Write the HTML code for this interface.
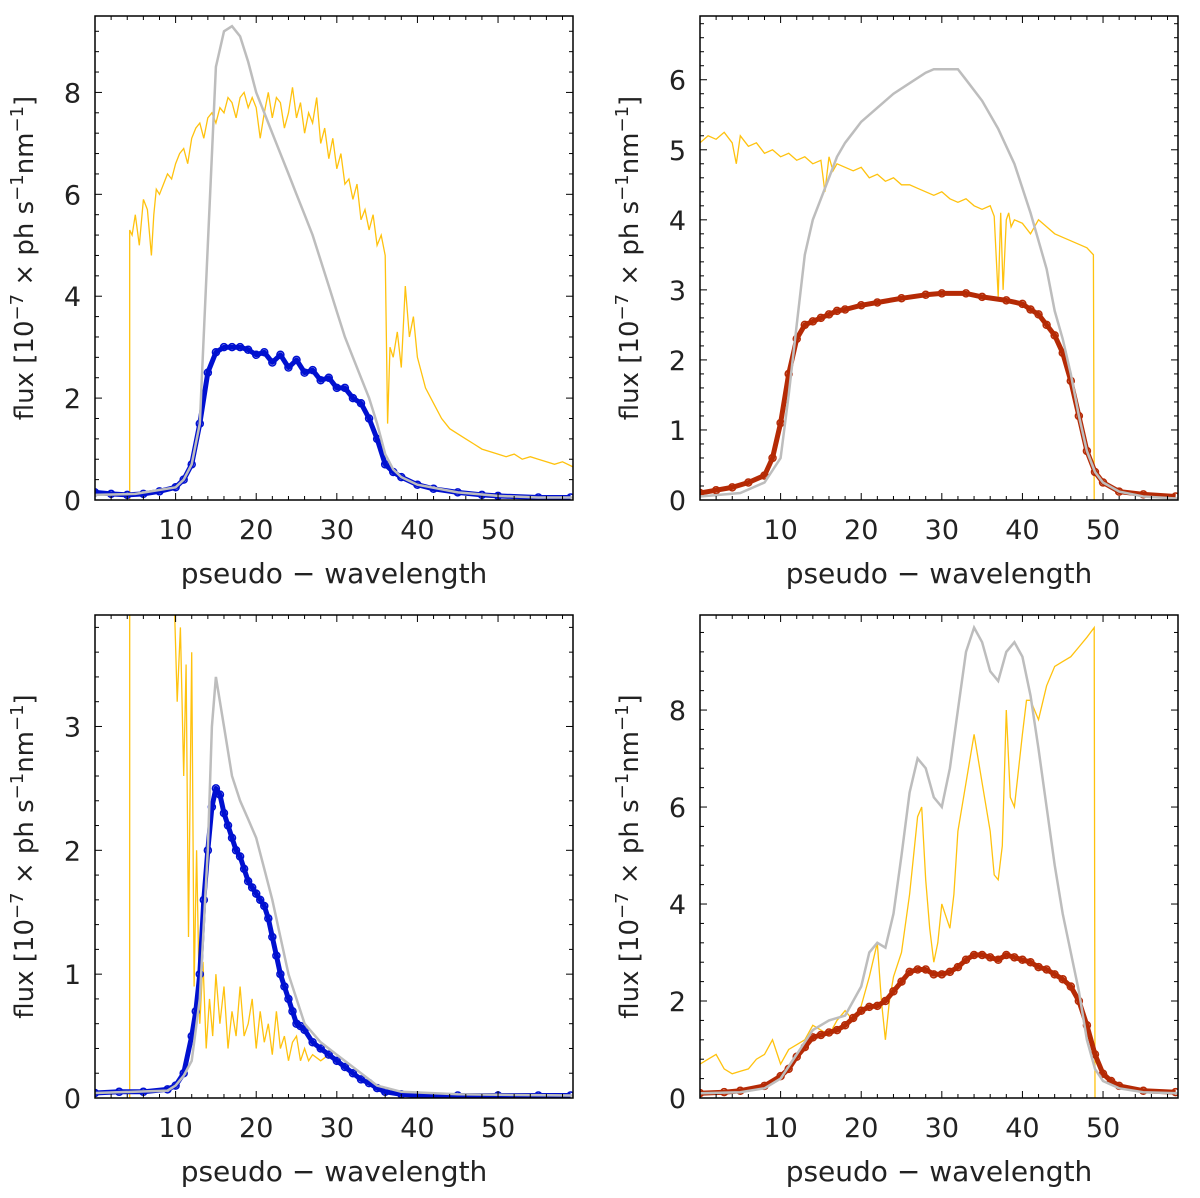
<!DOCTYPE html>
<html><head><meta charset="utf-8">
<style>
html,body{margin:0;padding:0;background:#fff;}
svg text{font-family:"DejaVu Sans","Liberation Sans",sans-serif;fill:#222;}
</style></head>
<body>
<svg id="fig" width="1200" height="1193" viewBox="0 0 1200 1193" xmlns="http://www.w3.org/2000/svg"></svg>
<script>
// ---- Panel A (top-left)
const aGrayX=[0,5,10,11,12,13,14,15,16,17,18,19,20,21,22,23,24,25,26,27,28,29,30,31,32,33,34,35,36,37,38,40,45,50,55,59.3];
const aGrayY=[0.1,0.12,0.25,0.4,0.7,1.5,5,8.5,9.2,9.3,9.1,8.6,8.0,7.6,7.2,6.8,6.4,6.0,5.6,5.2,4.7,4.2,3.7,3.2,2.8,2.4,2.0,1.5,0.9,0.6,0.45,0.3,0.15,0.08,0.05,0.05];
const aDotX=[0,2,4,6,8,10,11,12,13,14,15,16,17,18,19,20,21,22,23,24,25,26,27,28,29,30,31,32,33,34,35,36,37,38,40,42,45,48,50,55,59];
const aDotY=[0.15,0.12,0.1,0.12,0.17,0.25,0.4,0.7,1.5,2.5,2.9,3.0,3.0,3.0,2.95,2.85,2.9,2.7,2.85,2.6,2.75,2.5,2.55,2.35,2.4,2.2,2.2,2.0,1.9,1.6,1.2,0.7,0.55,0.45,0.3,0.22,0.15,0.1,0.08,0.05,0.05];
const aYelX=[4.3,4.3,4.6,5,5.5,6,6.5,7,7.3,7.6,8,8.5,9,9.5,10,10.5,11,11.5,12,12.5,13,13.5,14,14.5,15,15.5,16,16.5,17,17.5,18,18.5,19,19.5,20,20.5,21,21.5,22,22.5,23,23.5,24,24.5,25,25.5,26,26.5,27,27.5,28,28.5,29,29.5,30,30.5,31,31.5,32,32.5,33,33.5,34,34.5,35,35.5,36,36.3,36.6,37,37.5,38,38.5,39,39.5,40,41,42,43,44,45,46,47,48,49,50,51,52,53,54,55,56,57,58,59.3];
const aYelY=[0,5.3,5.2,5.6,5.0,5.9,5.7,4.8,5.6,6.1,6.0,6.2,6.4,6.3,6.6,6.8,6.9,6.6,7.1,7.3,7.4,7.1,7.5,7.6,7.4,7.7,7.6,7.9,7.8,7.5,7.9,8.0,7.7,7.9,7.7,7.1,7.6,8.0,7.5,7.9,7.8,7.3,7.6,8.1,7.5,7.8,7.2,7.6,7.4,7.9,7.0,7.3,6.7,7.1,6.5,6.8,6.2,6.3,5.9,6.2,5.5,5.7,5.3,5.6,5.0,5.2,4.8,1.5,3.0,2.8,3.3,2.6,4.2,3.2,3.6,2.8,2.2,1.9,1.6,1.4,1.3,1.2,1.1,1.0,0.95,0.9,0.85,0.9,0.8,0.85,0.8,0.75,0.7,0.75,0.65];
// ---- Panel B (top-right)
const bGrayX=[0,5,8,10,11,12,13,14,15,16,17,18,19,20,22,24,26,28,29,32,33,35,37,39,41,43,44,45,46,47,48,49,50,52,55,59.3];
const bGrayY=[0.05,0.1,0.25,0.6,1.5,2.5,3.5,4.0,4.3,4.6,4.9,5.1,5.25,5.4,5.6,5.8,5.95,6.1,6.15,6.15,6.0,5.7,5.3,4.8,4.1,3.3,2.7,2.3,1.8,1.2,0.7,0.4,0.25,0.12,0.05,0.02];
const bDotX=[0,2,4,6,8,9,10,11,12,13,14,15,16,17,18,20,22,25,28,30,33,35,38,40,41,42,43,44,45,46,47,48,49,50,52,55,59];
const bDotY=[0.1,0.14,0.18,0.25,0.35,0.6,1.1,1.8,2.3,2.5,2.55,2.6,2.65,2.7,2.72,2.78,2.82,2.88,2.93,2.95,2.95,2.9,2.85,2.8,2.72,2.65,2.5,2.35,2.1,1.7,1.2,0.7,0.4,0.25,0.12,0.08,0.05];
const bYelX=[0,1,2,3,4,4.5,5,6,7,8,9,10,11,12,13,14,15,15.5,16,16.5,17,18,19,20,21,22,23,24,25,26,27,28,29,30,31,32,33,34,35,36,36.5,37,37.3,37.6,38,38.3,38.6,39,40,41,42,43,44,45,46,47,48,48.8,48.9];
const bYelY=[5.1,5.2,5.15,5.25,5.1,4.8,5.2,5.05,5.1,4.95,5.0,4.9,4.95,4.85,4.9,4.8,4.85,4.4,4.9,4.7,4.8,4.75,4.7,4.75,4.6,4.65,4.55,4.6,4.5,4.5,4.45,4.4,4.35,4.4,4.3,4.25,4.3,4.2,4.15,4.2,4.05,2.9,4.1,3.0,4.0,4.1,3.9,4.0,3.95,3.8,4.0,3.9,3.8,3.75,3.7,3.65,3.6,3.5,0];
// ---- Panel C (bottom-left)
const cGrayX=[0,9,10,11,12,13,14,14.5,15,16,17,18,19,20,21,22,23,24,25,26,28,30,32,35,38,45,59.3];
const cGrayY=[0.04,0.06,0.1,0.18,0.3,0.8,2.0,3.0,3.4,3.0,2.6,2.4,2.25,2.1,1.85,1.6,1.3,1.0,0.8,0.6,0.45,0.35,0.25,0.1,0.05,0.03,0.02];
const cDotX=[0,3,6,9,10,11,12,12.5,13,13.5,14,14.5,15,15.5,16,16.5,17,17.5,18,18.5,19,19.5,20,20.5,21,21.5,22,22.5,23,23.5,24,24.5,25,25.5,26,27,28,29,30,31,32,33,34,35,36,38,40,45,50,55,59];
const cDotY=[0.04,0.05,0.05,0.07,0.1,0.2,0.5,0.7,1.0,1.6,2.0,2.35,2.5,2.45,2.3,2.2,2.1,2.0,1.95,1.85,1.75,1.7,1.65,1.6,1.55,1.45,1.3,1.15,1.0,0.9,0.8,0.7,0.6,0.58,0.55,0.45,0.4,0.35,0.3,0.25,0.2,0.15,0.12,0.08,0.05,0.03,0.02,0.02,0.02,0.02,0.02];
const cYelX=[4.3,4.3,4.35,9.8,10.2,10.6,11,11.3,11.6,12,12.3,12.6,13,13.4,13.8,14.2,14.6,15,15.5,16,16.5,17,17.5,18,18.5,19,19.5,20,20.5,21,21.5,22,22.5,23,23.5,24,24.5,25,25.5,26,26.5,27,28,29,30,31];
const cYelY=[0,6,6,6,3.2,3.8,2.6,3.5,1.3,3.6,0.9,2.0,0.6,1.1,0.4,0.8,0.5,1.0,0.6,0.9,0.4,0.7,0.5,0.9,0.5,0.6,0.8,0.4,0.7,0.45,0.6,0.35,0.7,0.4,0.5,0.3,0.45,0.5,0.3,0.4,0.3,0.35,0.3,0.35,0.3,0.25];
// ---- Panel D (bottom-right)
const dGrayX=[0,5,8,10,12,14,16,18,20,21,22,23,24,25,26,27,28,29,30,31,32,33,34,35,36,37,38,39,40,41,42,43,44,45,46,47,48,49,50,52,55,59.3];
const dGrayY=[0.1,0.12,0.2,0.4,0.9,1.4,1.6,1.7,2.3,3.0,3.2,3.1,3.8,5.0,6.3,7.0,6.8,6.2,6.0,6.8,8.0,9.2,9.7,9.4,8.8,8.6,9.2,9.4,9.1,8.3,7.2,6.0,4.8,3.8,3.0,2.2,1.2,0.6,0.35,0.2,0.12,0.1];
const dDotX=[0,3,5,8,10,11,12,13,14,15,16,17,18,19,20,21,22,23,24,25,26,27,28,29,30,31,32,33,34,35,36,37,38,39,40,41,42,43,44,45,46,47,48,49,50,51,52,55,59];
const dDotY=[0.1,0.12,0.15,0.25,0.45,0.6,0.85,1.05,1.25,1.3,1.35,1.4,1.5,1.65,1.8,1.88,1.9,2.0,2.2,2.4,2.6,2.65,2.65,2.55,2.55,2.6,2.7,2.85,2.95,2.95,2.9,2.85,2.95,2.9,2.85,2.8,2.7,2.65,2.55,2.45,2.3,2.0,1.5,0.9,0.5,0.35,0.25,0.15,0.12];
const dYelX=[0,1,2,3,4,5,6,7,8,9,10,11,12,13,14,15,16,17,18,19,20,21,22,22.5,23,23.5,24,25,26,26.5,27,27.5,28,28.5,29,29.5,30,31,31.5,32,33,34,35,36,36.5,37,37.5,38,38.5,39,40,40.5,41,42,43,44,45,46,47,48,48.9,49];
const dYelY=[0.7,0.8,0.9,0.6,0.5,0.55,0.6,0.8,0.9,1.2,0.7,1.0,1.1,1.2,1.5,1.4,1.3,1.6,1.8,1.6,1.9,2.5,3.2,2.0,1.2,2.0,2.5,3.0,4.2,5.0,5.8,6.0,4.5,3.5,2.8,3.2,4.0,3.5,4.2,5.5,6.5,7.5,6.5,5.5,4.6,4.5,5.2,8.0,6.2,6.0,7.5,8.2,8.2,7.8,8.5,8.9,9.0,9.1,9.3,9.5,9.7,0];

const panels=[
 {x0:95,y0:16,w:478,h:484,xmax:59.3,ymax:9.5,yt:[0,2,4,6,8],ymin:0.4,c:'#0010d0',gx:aGrayX,gy:aGrayY,dx:aDotX,dy:aDotY,yx:aYelX,yy:aYelY,name:'top-left'},
 {x0:700,y0:16,w:478,h:484,xmax:59.3,ymax:6.91,yt:[0,1,2,3,4,5,6],ymin:0.2,c:'#b52a05',gx:bGrayX,gy:bGrayY,dx:bDotX,dy:bDotY,yx:bYelX,yy:bYelY,name:'top-right'},
 {x0:95,y0:615,w:478,h:483,xmax:59.3,ymax:3.9,yt:[0,1,2,3],ymin:0.2,c:'#0010d0',gx:cGrayX,gy:cGrayY,dx:cDotX,dy:cDotY,yx:cYelX,yy:cYelY,name:'bottom-left'},
 {x0:700,y0:615,w:478,h:483,xmax:59.3,ymax:9.96,yt:[0,2,4,6,8],ymin:0.4,c:'#b52a05',gx:dGrayX,gy:dGrayY,dx:dDotX,dy:dDotY,yx:dYelX,yy:dYelY,name:'bottom-right'}
];
const NS='http://www.w3.org/2000/svg';
const fig=document.getElementById('fig');
function mk(tag,attrs,parent){const e=document.createElementNS(NS,tag);for(const k in attrs)e.setAttribute(k,attrs[k]);parent.appendChild(e);return e;}
panels.forEach(p=>{
  const g=mk('g',{},fig);
  
  
  const sx=v=>p.x0+v/p.xmax*p.w;
  const sy=v=>p.y0+p.h-Math.min(v,p.ymax*1.05)/p.ymax*p.h;
  const clipId='clip-'+p.name;
  const cp=mk('clipPath',{id:clipId},g);
  mk('rect',{x:p.x0,y:p.y0,width:p.w,height:p.h},cp);
  const plot=mk('g',{'clip-path':'url(#'+clipId+')'},g);
  const pts=(xs,ys)=>xs.map((x,i)=>sx(x).toFixed(1)+','+sy(ys[i]).toFixed(1)).join(' ');
  const yl=mk('polyline',{points:pts(p.yx,p.yy),fill:'none',stroke:'#ffc20e','stroke-width':1.3},plot);
  
  
  const band=mk('polyline',{points:pts(p.dx,p.dy),fill:'none',stroke:p.c,'stroke-width':5,'stroke-linejoin':'round'},plot);
  
  
  p.dx.forEach((x,i)=>{
    const c=mk('circle',{cx:sx(x),cy:sy(p.dy[i]),r:3.5,fill:'none',stroke:p.c,'stroke-width':1.5},plot);
    
    
  });
  const gl=mk('polyline',{points:pts(p.gx,p.gy),fill:'none',stroke:'#bdbdbd','stroke-width':2.5},plot);
  
  
  const fr=mk('rect',{x:p.x0,y:p.y0,width:p.w,height:p.h,fill:'none',stroke:'#000','stroke-width':1.5},g);
  
  
  for(let v=2;v<p.xmax;v+=2){
    const major=v%10===0, L=major?7:4;
    mk('line',{x1:sx(v),x2:sx(v),y1:p.y0+p.h,y2:p.y0+p.h-L,stroke:'#000','stroke-width':1},g);
    mk('line',{x1:sx(v),x2:sx(v),y1:p.y0,y2:p.y0+L,stroke:'#000','stroke-width':1},g);
    if(major){const t=mk('text',{x:sx(v),y:p.y0+p.h+39,'text-anchor':'middle','font-size':27},g);t.textContent=v;
      }
  }
  for(let v=p.ymin;v<p.ymax;v+=p.ymin){
    const vv=Math.round(v*100)/100, major=p.yt.some(t=>Math.abs(t-vv)<1e-6), L=major?7:4;
    mk('line',{x1:p.x0,x2:p.x0+L,y1:sy(vv),y2:sy(vv),stroke:'#000','stroke-width':1},g);
    mk('line',{x1:p.x0+p.w,x2:p.x0+p.w-L,y1:sy(vv),y2:sy(vv),stroke:'#000','stroke-width':1},g);
  }
  p.yt.forEach(v=>{const t=mk('text',{x:p.x0-14,y:sy(v)+10,'text-anchor':'end','font-size':27},g);t.textContent=v;
    });
  const xt=mk('text',{x:p.x0+p.w/2,y:p.y0+p.h+83,'text-anchor':'middle','font-size':28},g);
  xt.textContent='pseudo \u2212 wavelength';
  
  
  const cy=p.y0+p.h/2, cx=p.x0-62;
  const yt=mk('text',{x:cx,y:cy,'text-anchor':'middle','font-size':26,transform:'rotate(-90 '+cx+' '+cy+')'},g);
  
  
  yt.innerHTML='flux [10<tspan font-size="18" dy="-10">\u22127</tspan><tspan dy="10"> \u00d7 ph s</tspan><tspan font-size="18" dy="-10">\u22121</tspan><tspan dy="10">nm</tspan><tspan font-size="18" dy="-10">\u22121</tspan><tspan dy="10">]</tspan>';
});
</script>
</body></html>
